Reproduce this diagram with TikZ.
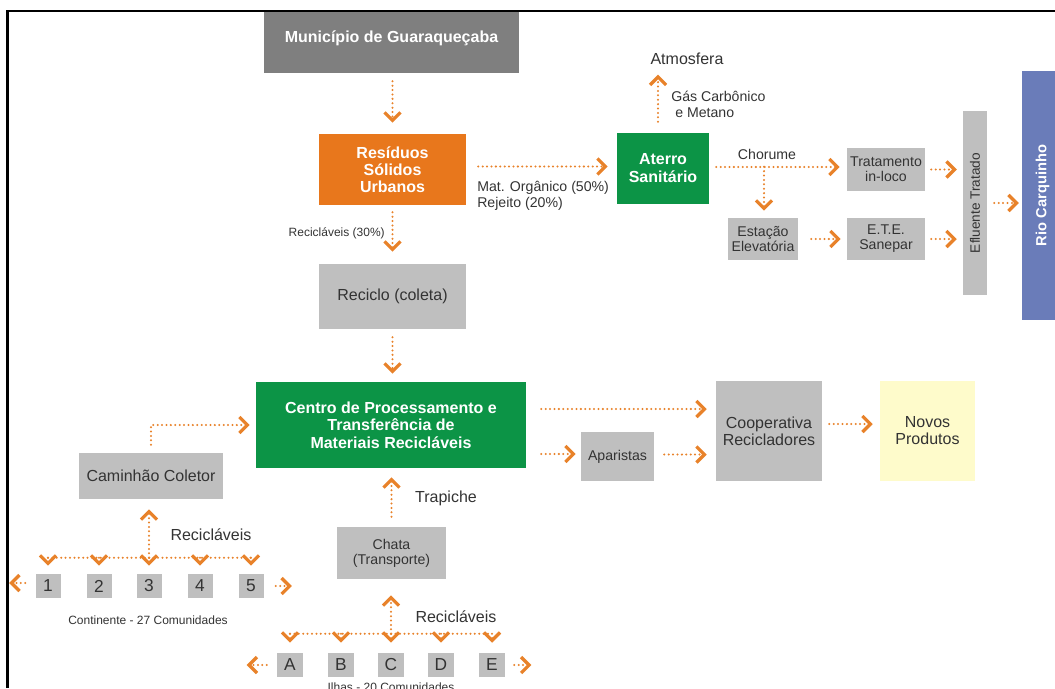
\documentclass[tikz,border=0pt]{standalone}
\usepackage{fontspec}
\setmainfont{Liberation Sans}
\usetikzlibrary{arrows.meta,calc}
\definecolor{dgray}{HTML}{7F7F7F}
\definecolor{lgray}{HTML}{BFBFBF}
\definecolor{orbox}{HTML}{E8771C}
\definecolor{grbox}{HTML}{0C9446}
\definecolor{blbox}{HTML}{6A7CB9}
\definecolor{ylbox}{HTML}{FEFBCB}
\definecolor{arrc}{HTML}{E8822A}
\definecolor{txt}{HTML}{333333}
\begin{document}
\begin{tikzpicture}[x=0.75pt,y=-0.75pt,
  rect/.style n args={4}{minimum width={((#3)-(#1))*0.75pt}, minimum height={((#4)-(#2))*0.75pt},
     at={({((#1)+(#3))/2},{((#2)+(#4))/2})}},
  box/.style={inner sep=0pt, align=center, text=txt, font=\fontsize{12}{12.75}\selectfont},
  gbox/.style={box, fill=lgray},
  sbox/.style={gbox, font=\fontsize{10.6}{11.3}\selectfont},
  bbox/.style={box, text=white, font=\bfseries\fontsize{12}{12.9}\selectfont},
  lbl/.style={inner sep=0pt, text=txt, align=left},
  dline/.style={draw=arrc, line width=1.7pt, line cap=round, dash pattern=on 0pt off 3.3pt},
  arr/.style={dline, -{Straight Barb[length=6pt,width=12pt,line width=2.4pt]}}
]
\useasboundingbox (0,0) rectangle (1055,688);
\clip (0,0) rectangle (1055,688);

% --- boxes ---
\node[bbox, fill=dgray, rect={264}{12}{519}{73}] (mun) {\raisebox{3pt}[\height][\depth]{Município de Guaraqueçaba}};
\node[bbox, fill=orbox, rect={319}{134}{466}{205}] (res) {Resíduos\\Sólidos\\Urbanos};
\node[gbox, rect={319}{264}{466}{329}] (rec) {Reciclo (coleta)};
\node[bbox, fill=grbox, font=\bfseries\fontsize{12}{13.1}\selectfont, rect={256}{382}{526}{468}] (centro) {Centro de Processamento e\\Transferência de\\Materiais Recicláveis};
\node[gbox, rect={79}{453}{223}{499}] (cam) {Caminhão Coletor};
\node[sbox, rect={337}{527}{446}{579}] (chata) {Chata\\(Transporte)};
\foreach \i/\x in {1/48,2/99,3/149,4/200,5/251}
  \node[gbox, font=\fontsize{13}{14}\selectfont, rect={\x-12.5}{574}{\x+12.5}{598}] (n\i) {\i};
\foreach \l/\x in {A/290,B/341,C/391,D/441,E/492}
  \node[gbox, font=\fontsize{13}{14}\selectfont, rect={\x-13}{653}{\x+13}{677}] (\l) {\l};
\node[bbox, fill=grbox, font=\bfseries\fontsize{12}{13.5}\selectfont, rect={617}{133}{709}{204}] (aterro) {Aterro\\Sanitário};
\node[sbox, rect={847}{148}{925}{191}] (trat) {Tratamento\\in-loco};
\node[sbox, rect={728}{218}{798}{260}] (est) {Estação\\Elevatória};
\node[sbox, rect={847}{218}{925}{260}] (ete) {E.T.E.\\Sanepar};
\node[gbox, rect={963}{111}{987}{295},
  label={[rotate=90, inner sep=0pt, text=txt, font=\fontsize{10.2}{11}\selectfont]center:Efluente Tratado}] (eflu) {};
\node[box, fill=blbox, rect={1022}{71}{1063}{320},
  label={[rotate=90, inner sep=0pt, text=white, font=\bfseries\fontsize{11}{12}\selectfont]center:Rio Carquinho}] (rio) {};
\node[sbox, rect={581}{432}{654}{481}] (apar) {Aparistas};
\node[gbox, rect={716}{381}{822}{481}] (coop) {Cooperativa\\Recicladores};
\node[box, fill=ylbox, rect={880}{381}{975}{481}] (novos) {Novos\\Produtos};

% --- free labels ---
\node[lbl, font=\fontsize{12}{14}\selectfont] (atm) at (687,59) {Atmosfera};
\node[lbl, anchor=north west, font=\fontsize{10.6}{12}\selectfont] (gas) at (671,91) {Gás Carbônico\\\hspace{3pt}e Metano};
\node[lbl, anchor=north west, font=\fontsize{10.6}{12}\selectfont] (mat) at (477,181) {Mat. Orgânico (50\%)\\Rejeito (20\%)};
\node[lbl, anchor=east, font=\fontsize{9}{10}\selectfont] (rec30) at (385,233) {Recicláveis (30\%)};
\node[lbl, font=\fontsize{10.6}{12}\selectfont] (chor) at (767,154) {Chorume};
\node[lbl, font=\fontsize{12}{14}\selectfont] (recu) at (211,535) {Recicláveis};
\node[lbl, font=\fontsize{12}{14}\selectfont] (recl) at (456,617) {Recicláveis};
\node[lbl, font=\fontsize{12}{14}\selectfont] (trap) at (446,498) {Trapiche};
\node[lbl, font=\fontsize{9}{10}\selectfont] (cont) at (148,620) {Continente - 27 Comunidades};
\node[lbl, font=\fontsize{9}{10}\selectfont] (ilhas) at (391,687) {Ilhas - 20 Comunidades};

% --- connectors ---
\draw[arr] ($(mun.south -| res.north)+(0,8)$) -- ($(res.north)+(0,-11)$);
\draw[arr] ($(res.south)+(0,7)$) -- ($(rec.north)+(0,-12)$);
\draw[arr] ($(rec.south)+(0,8)$) -- ($(rec.south |- centro.north)+(0,-8)$);
\draw[arr] ($(res.east)+(12,-3)$) -- ($(res.east -| aterro.west)+(-9,-3)$);
\draw[arr] ($(aterro.north)+(-5,-11)$) -- ($(aterro.north)+(-5,-58)$);
\draw[arr] ($(aterro.east)+(7,-1.5)$) -- ($(aterro.east -| trat.west)+(-7,-1.5)$);
\draw[arr] ($(est.north)+(1,-51)$) -- ($(est.north)+(1,-7)$);
\draw[arr] ($(est.east)+(13,0)$) -- ($(est.east -| ete.west)+(-6,0)$);
\draw[arr] ($(trat.east)+(6,0)$) -- ($(trat.east -| eflu.west)+(-6,0)$);
\draw[arr] ($(ete.east)+(6,0)$) -- ($(ete.east -| eflu.west)+(-6,0)$);
\draw[arr] ($(eflu.east)+(7,0)$) -- ($(eflu.east -| rio.west)+(-3,0)$);
\draw[arr] ($(centro.east)+(15,-16)$) -- ($(centro.east -| coop.west)+(-9,-16)$);
\draw[arr] ($(centro.east)+(15,29)$) -- ($(centro.east -| apar.west)+(-5,29)$);
\draw[arr] ($(apar.east)+(10,-2)$) -- ($(apar.east -| coop.west)+(-9,-2)$);
\draw[arr] ($(coop.east)+(7,-7)$) -- ($(coop.east -| novos.west)+(-7,-7)$);
\draw[arr] ($(cam.north)+(0,-8)$) |- ($(centro.west)+(-6,0)$);
% continent collection
\draw[dline] ($(n1.north)+(0,-16)$) -- ($(n5.north)+(0,-16)$);
\foreach \i in {1,...,5}
  \draw[arr] ($(n\i.north)+(0,-16)$) -- ($(n\i.north)+(0,-8)$);
\draw[arr] ($(n3.north)+(0,-16)$) -- ($(cam.south -| n3.north)+(0,10)$);
\draw[arr] ($(n1.west)+(-10,-3)$) -- ($(n1.west)+(-26,-3)$);
\draw[arr] ($(n5.east)+(12,0)$) -- ($(n5.east)+(28,0)$);
% island collection
\draw[arr] ($(chata.north)+(0,-10)$) -- ($(chata.north |- centro.south)+(0,9)$);
\draw[dline] ($(A.north)+(0,-19)$) -- ($(E.north)+(0,-19)$);
\foreach \l in {A,B,C,D,E}
  \draw[arr] ($(\l.north)+(0,-19)$) -- ($(\l.north)+(0,-10)$);
\draw[arr] ($(C.north)+(0,-19)$) -- ($(chata.south -| C.north)+(0,16)$);
\draw[arr] ($(A.west)+(-10,0)$) -- ($(A.west)+(-30,0)$);
\draw[arr] ($(E.east)+(9,0)$) -- ($(E.east)+(26,0)$);

% frame
\draw[line width=1.6pt] (7.5,688) -- (7.5,11) -- (1056,11);
\end{tikzpicture}
\end{document}
